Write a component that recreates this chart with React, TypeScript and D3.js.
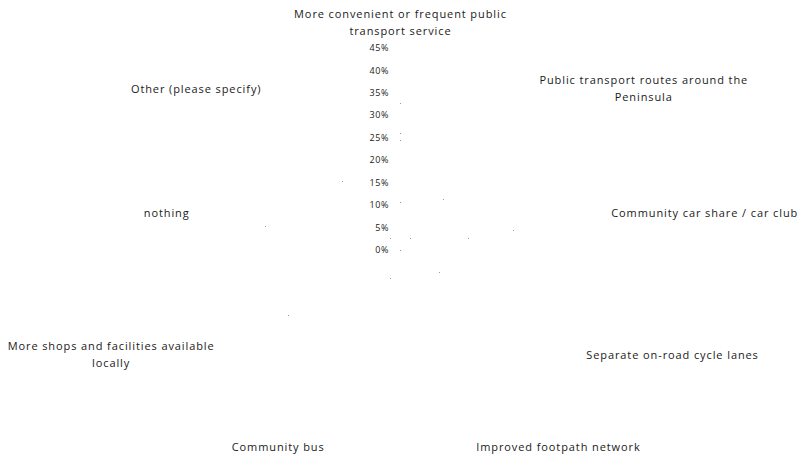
import React, { useEffect, useRef } from "react";
import * as d3 from "d3";

const categories: string[][] = [
  ["More convenient or frequent public", "transport service"],
  ["Public transport routes around the", "Peninsula"],
  ["Community car share / car club"],
  ["Separate on-road cycle lanes"],
  ["Improved footpath network"],
  ["Community bus"],
  ["More shops and facilities available", "locally"],
  ["nothing"],
  ["Other (please specify)"],
];

const tickValues = [0, 5, 10, 15, 20, 25, 30, 35, 40, 45];
const tickLabels = ["0%", "5%", "10%", "15%", "20%", "25%", "30%", "35%", "40%", "45%"];

const seriesA = [32.7, 14.8, 25.5, 10.0, 0, 6.6, 28.8, 30.6, 20.0];
const seriesB = [24.5, 3.6, 15.4, 0, 0, 0, 0, 0, 3.5];
const seriesC = [26.0, 0, 0, 0, 0, 0, 0, 0, 0];
const seriesD = [10.6, 0, 0, 0, 0, 0, 0, 0, 0];

const W = 797;
const H = 456;

export default function App() {
  const ref = useRef<SVGSVGElement | null>(null);

  useEffect(() => {
    const svg = d3.select(ref.current);
    svg.selectAll("*").remove();
    const cx = 400;
    const cy = 250;
    const r = d3.scaleLinear().domain([0, 45]).range([0, 202]);
    const angle = d3
      .scalePoint<number>()
      .domain(d3.range(categories.length + 1))
      .range([0, 2 * Math.PI]);
    const font = "'Open Sans', 'Noto Sans', sans-serif";

    // tick labels
    const ticks = svg.append("g");
    tickValues.forEach((v, i) => {
      ticks
        .append("text")
        .attr("x", cx - 11)
        .attr("y", cy - r(v))
        .attr("dy", "0.35em")
        .attr("text-anchor", "end")
        .attr("font-family", font)
        .attr("font-size", 9)
        .attr("letter-spacing", 0.6)
        .attr("fill", "#222")
        .text(tickLabels[i]);
    });

    // data points
    const pts = svg.append("g");
    [seriesA, seriesB, seriesC, seriesD].forEach((s) => {
      s.forEach((v, i) => {
        const a = angle(i)!;
        const x = cx + r(v) * Math.sin(a);
        const y = cy - r(v) * Math.cos(a);
        pts
          .append("rect")
          .attr("x", Math.round(x))
          .attr("y", Math.round(y))
          .attr("width", 1)
          .attr("height", 1)
          .attr("fill", "#999");
      });
    });

    // category labels
    const R = 210;
    const lh = 17;
    const ls = 0.9;
    const lg = svg.append("g");
    categories.forEach((lines, i) => {
      const a = angle(i)!;
      const sx = Math.sin(a);
      const cs = Math.cos(a);
      const px = cx + R * sx;
      const py = cy - R * cs;
      const g = lg.append("g");
      const texts = lines.map((l) =>
        g
          .append("text")
          .attr("font-family", font)
          .attr("font-size", 11)
          .attr("letter-spacing", ls)
          .attr("fill", "#1a1a1a")
          .attr("text-anchor", "middle")
          .text(l)
      );
      const widths = texts.map((t) => (t.node() as SVGTextElement).getComputedTextLength());
      const bw = Math.max(...widths);
      let bx: number;
      if (Math.abs(sx) < 0.05) bx = px;
      else if (sx > 0) bx = px + 4 + bw / 2;
      else bx = px - 4 - bw / 2;
      const n = lines.length;
      let topY: number;
      if (Math.abs(sx) < 0.05 && cs > 0) topY = py - n * lh;
      else topY = py - (n * lh) / 2;
      texts.forEach((t, k) => {
        t.attr("x", bx + ls / 2).attr("y", topY + k * lh + lh / 2).attr("dy", "0.35em");
      });
    });
  }, []);

  return (
    <svg
      ref={ref}
      width={W}
      height={H}
      style={{ position: "absolute", left: 0, top: 0, background: "#fff" }}
    />
  );
}
